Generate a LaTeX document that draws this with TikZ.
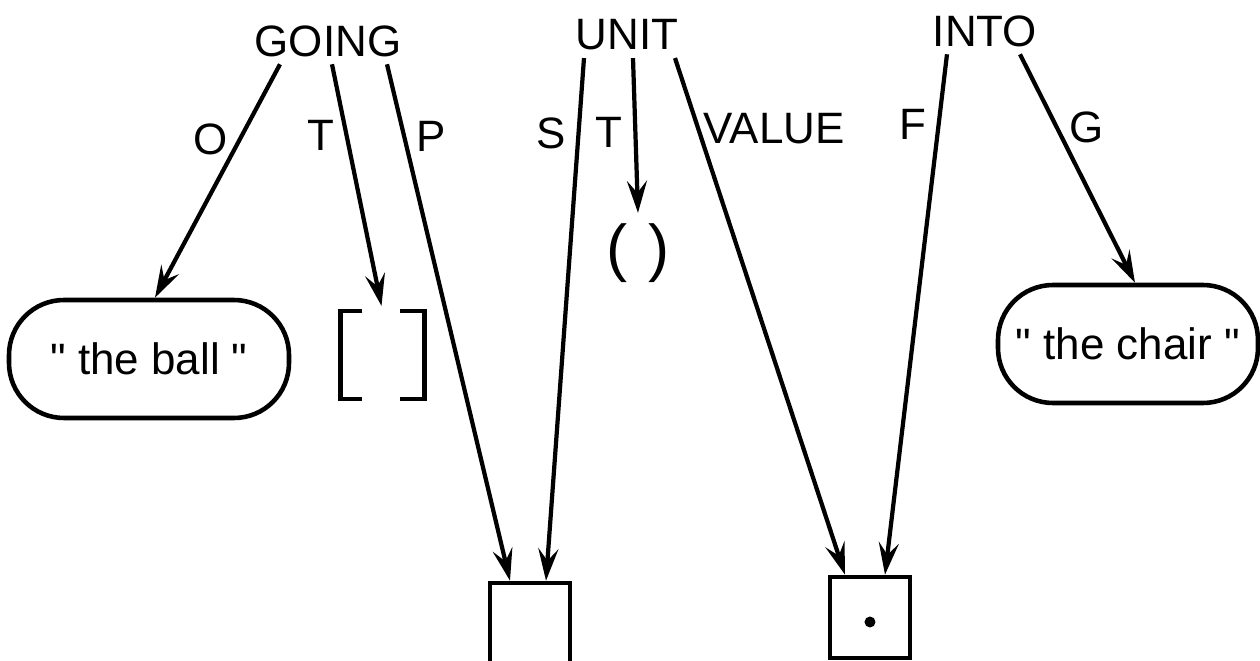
\documentclass[tikz,border=0pt]{standalone}
\usepackage{fontspec}
\setmainfont{Liberation Sans}
\usepackage{tikz}
\usetikzlibrary{arrows.meta}
\tikzstyle{word} = [inner sep=2pt]
\tikzstyle{lbl} = [inner sep=3pt]
\tikzstyle{quoted} = [rectangle, line width=1.3pt, rounded corners=5.5mm, minimum height=1.18cm, text centered, draw=black]
\tikzstyle{cell} = [rectangle, line width=1.3pt, draw=black]
\tikzstyle{gap} = [rectangle, inner sep=0pt, minimum width=0.83cm, minimum height=0.87cm]
\tikzstyle{arrow} = [line width=1.2pt, -{Stealth[length=3.2mm, width=2mm, inset=1.2mm]}]

\begin{document}
\begin{tikzpicture}[font=\fontsize{12.5}{14}\selectfont]
		\useasboundingbox (0,0) rectangle (12.6,-6.61);
		\node (going) [word] at (3.28,-0.41) {GOING};
		\node (unit) [word] at (6.27,-0.35) {UNIT};
		\node (into) [word] at (9.85,-0.31) {INTO};
		\node (ball) [quoted, minimum width=2.80cm] at (1.49,-3.59) {\textquotedbl\ the ball \textquotedbl};
		\node (brk) [gap] at (3.825,-3.55) {};
		\node (par) [inner sep=1mm, font=\fontsize{18}{20}\selectfont] at (6.38,-2.53) {(\,\,)};
		\node (chair) [quoted, minimum width=2.60cm] at (11.28,-3.44) {\textquotedbl\ the chair \textquotedbl};
		\node (pbox) [cell, minimum width=0.80cm, minimum height=1.0cm] at (5.30,-6.33) {};
		\node (vbox) [cell, minimum width=0.80cm, minimum height=0.81cm] at (8.70,-6.175) {};
		% the empty brackets and the dot
		\draw [line width=1.3pt] ([xshift=2.2mm]brk.north west) -- (brk.north west) -- (brk.south west) -- ([xshift=2.2mm]brk.south west);
		\draw [line width=1.3pt] ([xshift=-2.5mm]brk.north east) -- (brk.north east) -- (brk.south east) -- ([xshift=-2.5mm]brk.south east);
		\fill ([yshift=-0.45mm]vbox.center) circle (0.55mm);
		\draw [arrow] ([xshift=-4.8mm]going.south) -- node[lbl, left, pos=0.32] {O} ([xshift=0.6mm]ball.north);
		\draw [arrow, shorten >=0.5mm] ([xshift=0.4mm]going.south) -- node[lbl, left, pos=0.29] {T} (brk.north);
		\draw [arrow] ([xshift=5.9mm]going.south) -- node[lbl, right, pos=0.14] {P} ([xshift=-2mm]pbox.north);
		\draw [arrow] ([xshift=-4.3mm]unit.south) -- node[lbl, left, pos=0.145] {S} ([xshift=1.6mm]pbox.north);
		\draw [arrow] ([xshift=0.6mm]unit.south) -- node[lbl, left, pos=0.48] {T} (par.north);
		\draw [arrow] ([xshift=4.8mm]unit.south) -- node[lbl, right, inner sep=1pt, pos=0.137] {VALUE} ([xshift=-2.5mm]vbox.north);
		\draw [arrow] ([xshift=-3.8mm]into.south) -- node[lbl, left, pos=0.135] {F} ([xshift=1.5mm]vbox.north);
		\draw [arrow] ([xshift=3.5mm]into.south) -- node[lbl, right, pos=0.32] {G} ([xshift=0.7mm]chair.north);
		\end{tikzpicture}
\end{document}
